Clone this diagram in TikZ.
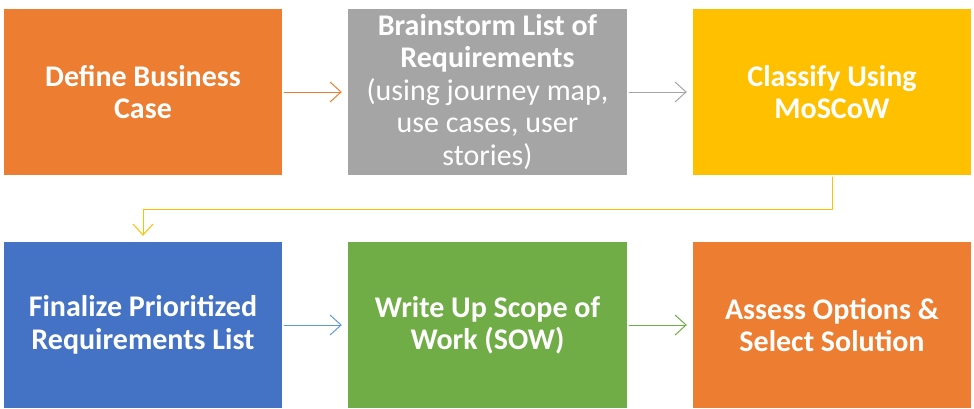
\documentclass[tikz,border=0pt]{standalone}
\usepackage{fontspec}
\setmainfont{Carlito}
\usetikzlibrary{arrows.meta}

\begin{document}
\begin{tikzpicture}[x=1pt,y=-1pt,line cap=round,line join=round]
  \definecolor{caseorange}{RGB}{237,125,49}
  \definecolor{listgray}{RGB}{165,165,165}
  \definecolor{moscowgold}{RGB}{255,192,0}
  \definecolor{finalblue}{RGB}{68,114,196}
  \definecolor{sowgreen}{RGB}{112,173,71}
  \definecolor{arrowblue}{RGB}{91,155,213}
  \tikzset{
    stepbox/.style={minimum width=278pt,minimum height=166pt,inner sep=0pt,
      text=white,align=center,font=\fontsize{30}{32.5}\selectfont\bfseries},
    flow/.style={line width=1pt,-{Straight Barb[length=11pt,width=20pt]},
      shorten <=2pt,shorten >=6pt}
  }

  % page
  \useasboundingbox (0,0) rectangle (974,408);

  % top row
  \node[stepbox,fill=caseorange] (define) at (143,92) {Define Business\\Case};
  \node[stepbox,fill=listgray,minimum width=279pt] (brainstorm) at (487.5,92)
    {Brainstorm List of\\Requirements\\\mdseries(using journey map,\\\mdseries use cases, user\\\mdseries stories)};
  \node[stepbox,fill=moscowgold] (classify) at (832,92) {Classify Using\\MoSCoW};

  % bottom row
  \node[stepbox,fill=finalblue] (finalize) at (143,325) {Finalize Prioritized\\Requirements List};
  \node[stepbox,fill=sowgreen,minimum width=279pt] (scope) at (487.5,325) {Write Up Scope of\\Work (SOW)};
  \node[stepbox,fill=caseorange] (assess) at (832,325) {Assess Options \&\\Select Solution};

  % connectors
  \draw[flow,caseorange] (define) -- (brainstorm);
  \draw[flow,listgray] (brainstorm) -- (classify);
  \coordinate (elbow) at (143,209);
  \draw[flow,moscowgold] (classify.south) |- (elbow) -- (finalize.north);
  \draw[flow,arrowblue] (finalize) -- (scope);
  \draw[flow,sowgreen] (scope) -- (assess);
\end{tikzpicture}
\end{document}
